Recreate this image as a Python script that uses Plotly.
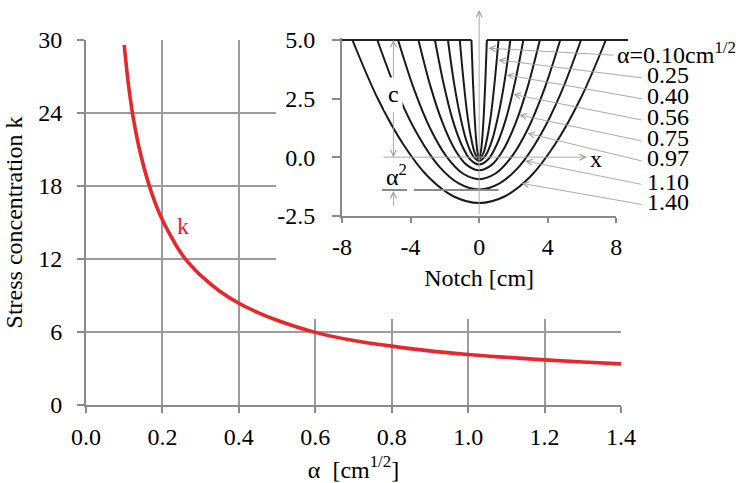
import plotly.graph_objects as go

# ---------------- data ----------------
ALPHA = [0.10, 0.11, 0.12, 0.13, 0.14, 0.16, 0.18, 0.20, 0.22, 0.24, 0.26, 0.28, 0.30,
         0.35, 0.40, 0.45, 0.50, 0.60, 0.70, 0.80, 0.90, 1.00, 1.10, 1.20, 1.30, 1.40]
K = [29.6, 26.6, 24.3, 22.5, 21.0, 18.6, 16.7, 15.2, 14.0, 12.9, 12.0, 11.3, 10.65,
     9.35, 8.36, 7.6, 6.97, 5.97, 5.3, 4.84, 4.45, 4.15, 3.92, 3.71, 3.53, 3.38]

X_TICKS = [0.0, 0.2, 0.4, 0.6, 0.8, 1.0, 1.2, 1.4]
X_TICK_TEXT = ["0.0", "0.2", "0.4", "0.6", "0.8", "1.0", "1.2", "1.4"]
Y_TICKS = [0, 6, 12, 18, 24, 30]
Y_TICK_TEXT = ["0", "6", "12", "18", "24", "30"]

# inset: notch profiles (right half, mirrored about x = 0)
NOTCH_LABELS = ["α=0.10cm<sup>1/2</sup>", "0.25", "0.40", "0.56", "0.75", "0.97", "1.10", "1.40"]
HALF_X = [
    [0, 0.09, 0.18, 0.27, 0.36, 0.45],
    [0, 0.23, 0.45, 0.68, 0.90, 1.13],
    [0, 0.36, 0.73, 1.09, 1.46, 1.82],
    [0, 0.52, 1.03, 1.55, 2.06, 2.58],
    [0, 0.71, 1.42, 2.12, 2.83, 3.54],
    [0, 0.95, 1.89, 2.84, 3.78, 4.73],
    [0, 1.19, 2.38, 3.56, 4.75, 5.94],
    [0, 1.48, 2.96, 4.43, 5.91, 7.39],
]
HALF_Y = [
    [-0.01, 0.19, 0.79, 1.79, 3.20, 5.0],
    [-0.06, 0.14, 0.75, 1.76, 3.18, 5.0],
    [-0.16, 0.05, 0.67, 1.70, 3.14, 5.0],
    [-0.31, -0.10, 0.54, 1.60, 3.09, 5.0],
    [-0.56, -0.34, 0.33, 1.44, 3.00, 5.0],
    [-0.94, -0.70, 0.01, 1.20, 2.86, 5.0],
    [-1.38, -1.12, -0.36, 0.92, 2.70, 5.0],
    [-1.96, -1.68, -0.85, 0.55, 2.49, 5.0],
]
SURFACE_X = [-8, -0.45, None, 0.45, 8]
SURFACE_Y = [5, 5, None, 5, 5]

# leader-line tips on the curves (inset data units)
TIP_X = [0.54, 1.12, 1.61, 1.99, 2.35, 2.81, 2.68, 2.49]
TIP_Y = [4.65, 4.15, 3.51, 2.68, 1.80, 1.02, -0.16, -1.12]

IX_TICKS = [-8, -4, 0, 4, 8]
IX_TICK_TEXT = ["-8", "-4", "0", "4", "8"]
IY_TICKS = [-2.5, 0, 2.5, 5.0]
IY_TICK_TEXT = ["-2.5", "0.0", "2.5", "5.0"]

# ---------------- styling ----------------
FONT = "Liberation Serif"
RED = "#e8262b"
GRID = "#9c9c9c"
AXC = "#8a8a8a"
THIN = "#a0a0a0"

W, H = 745, 483
ML, MR, MT, MB = 86, 124, 30, 78
PW, PH = W - ML - MR, H - MT - MB


def px_to_paper(px, py):
    return (px - ML) / PW, (H - MB - py) / PH


fig = go.Figure()

fig.add_trace(go.Scatter(x=ALPHA, y=K, mode="lines",
                         line=dict(color=RED, width=3.6, shape="spline", smoothing=1.0),
                         xaxis="x", yaxis="y", showlegend=False, hoverinfo="skip"))

fig.add_trace(go.Scatter(x=SURFACE_X, y=SURFACE_Y, mode="lines",
                         line=dict(color="#222222", width=2),
                         xaxis="x2", yaxis="y2", showlegend=False, hoverinfo="skip"))

for hx, hy in zip(HALF_X, HALF_Y):
    xs = [-v for v in reversed(hx)] + hx[1:]
    ys = list(reversed(hy)) + hy[1:]
    fig.add_trace(go.Scatter(x=xs, y=ys, mode="lines",
                             line=dict(color="#1a1a1a", width=2, shape="spline", smoothing=1.0),
                             xaxis="x2", yaxis="y2", showlegend=False, hoverinfo="skip"))

shapes = []
# white panel behind the inset (hides main grid there)
shapes.append(dict(type="rect", xref="x", yref="y", x0=0.497, x1=1.6, y0=7.07, y1=32,
                   fillcolor="white", line=dict(width=0), layer="between"))
# surface line slightly beyond the inset axis end
x_a, y_a = px_to_paper(616, 40)
x_b, _ = px_to_paper(628, 40)
shapes.append(dict(type="line", xref="paper", yref="paper", x0=x_a, x1=x_b, y0=y_a, y1=y_a,
                   line=dict(color="#222222", width=2)))
# alpha^2 reference line (at vertex of 1.10 profile)
for x0, x1 in [(-5.67, -4.2), (-3.8, 1.13)]:
    shapes.append(dict(type="line", xref="x2", yref="y2", x0=x0, x1=x1, y0=-1.40, y1=-1.40,
                       line=dict(color="#8a8a8a", width=2)))

ann = []


def arrow(x, y, ax, ay, ref_pixels=False, head=5, size=1.3):
    d = dict(x=x, y=y, xref="x2", yref="y2", text="", showarrow=True,
             arrowhead=head, arrowsize=size, arrowwidth=0.9, arrowcolor=THIN,
             ax=ax, ay=ay)
    if not ref_pixels:
        d.update(axref="x2", ayref="y2")
    return d


# coordinate arrows
ann.append(arrow(0, 6.28, 0, -2.5))
ann.append(arrow(6.28, 0, -5.67, 0))
ann.append(dict(x=-0.93, y=5.98, xref="x2", yref="y2", text="y", showarrow=False,
                font=dict(family=FONT, size=24, color="black")))
ann.append(dict(x=6.8, y=-0.1, xref="x2", yref="y2", text="x", showarrow=False,
                font=dict(family=FONT, size=24, color="black")))
# c dimension
ann.append(arrow(-5.0, 5.0, -5.0, 3.3))
ann.append(arrow(-5.0, 0.0, -5.0, 2.0))
ann.append(dict(x=-5.0, y=2.68, xref="x2", yref="y2", text="c", showarrow=False,
                bgcolor="white", borderpad=3,
                font=dict(family=FONT, size=24, color="black")))
# alpha^2 dimension
ann.append(arrow(-5.0, -1.45, -5.0, -2.15))
ann.append(dict(x=-4.85, y=-0.75, xref="x2", yref="y2", text="α<sup>2</sup>", showarrow=False,
                font=dict(family=FONT, size=24, color="black")))

# leader lines + labels
LABEL_PY = [53.3, 75, 96, 117.3, 138.3, 158.3, 181.7, 201.7]
for i, (lab, tx, ty, py) in enumerate(zip(NOTCH_LABELS, TIP_X, TIP_Y, LABEL_PY)):
    tip_px = 479 + tx * 17.16
    tip_py = 40 + (5 - ty) * 23.43
    tail_px = 615 if i == 0 else 643
    tail_py = py + (2 if i == 0 else 3)
    ann.append(arrow(tx, ty, tail_px - tip_px, tail_py - tip_py, ref_pixels=True))
    lx, ly = px_to_paper(615 if i == 0 else 645, py)
    ann.append(dict(x=lx, y=ly, xref="paper", yref="paper", text=lab, showarrow=False,
                    xanchor="left", yanchor="middle",
                    font=dict(family=FONT, size=24, color="black")))

# red k label
ann.append(dict(x=0.255, y=14.7, xref="x", yref="y", text="k", showarrow=False,
                font=dict(family=FONT, size=24, color=RED)))

tickfont = dict(family=FONT, size=24, color="black")
titlefont = dict(family=FONT, size=24, color="black")

fig.update_layout(
    width=W, height=H,
    margin=dict(l=ML, r=MR, t=MT, b=MB, autoexpand=False),
    paper_bgcolor="white", plot_bgcolor="white",
    font=dict(family=FONT, color="black"),
    showlegend=False,
    shapes=shapes, annotations=ann,
    xaxis=dict(domain=[0, 1], range=[0, 1.4], tickvals=X_TICKS, ticktext=X_TICK_TEXT,
               showgrid=True, gridcolor=GRID, gridwidth=1.6, zeroline=False,
               showline=True, linecolor=AXC, linewidth=1.8, automargin=False,
               ticks="outside", ticklen=6, tickcolor=AXC, tickwidth=1.5,
               tickfont=tickfont, ticklabelstandoff=3, anchor="y",
               title=dict(text="α\u00a0\u00a0[cm<sup>1/2</sup>]", font=titlefont, standoff=12)),
    yaxis=dict(domain=[0, (H - MB - 40) / PH], range=[0, 30], tickvals=Y_TICKS, ticktext=Y_TICK_TEXT,
               showgrid=True, gridcolor=GRID, gridwidth=1.6, zeroline=False,
               showline=True, linecolor=AXC, linewidth=1.8, automargin=False,
               ticks="outside", ticklen=7, tickcolor=AXC, tickwidth=1.5,
               tickfont=tickfont, ticklabelstandoff=10, anchor="x",
               title=dict(text="Stress concentration k", font=titlefont, standoff=9)),
    xaxis2=dict(domain=[(342 - ML) / PW, (616.3 - ML) / PW], range=[-8, 8],
                tickvals=IX_TICKS, ticktext=IX_TICK_TEXT, showgrid=False, zeroline=False,
                showline=True, linecolor=AXC, linewidth=1.8, automargin=False,
                ticks="outside", ticklen=5, tickcolor=AXC, tickwidth=1.5,
                tickfont=tickfont, ticklabelstandoff=4, anchor="y2",
                title=dict(text="Notch [cm]", font=titlefont, standoff=10)),
    yaxis2=dict(domain=[(H - MB - 215.7) / PH, (H - MB - 37.66) / PH], range=[-2.5, 5.1],
                tickvals=IY_TICKS, ticktext=IY_TICK_TEXT, showgrid=False, zeroline=False,
                showline=True, linecolor=AXC, linewidth=1.8, automargin=False,
                ticks="outside", ticklen=8, tickcolor=AXC, tickwidth=1.5,
                tickfont=tickfont, ticklabelstandoff=12, anchor="x2"),
)

fig.write_html("out.html", config={"displayModeBar": False},
               post_script="document.body.style.margin='0';")
